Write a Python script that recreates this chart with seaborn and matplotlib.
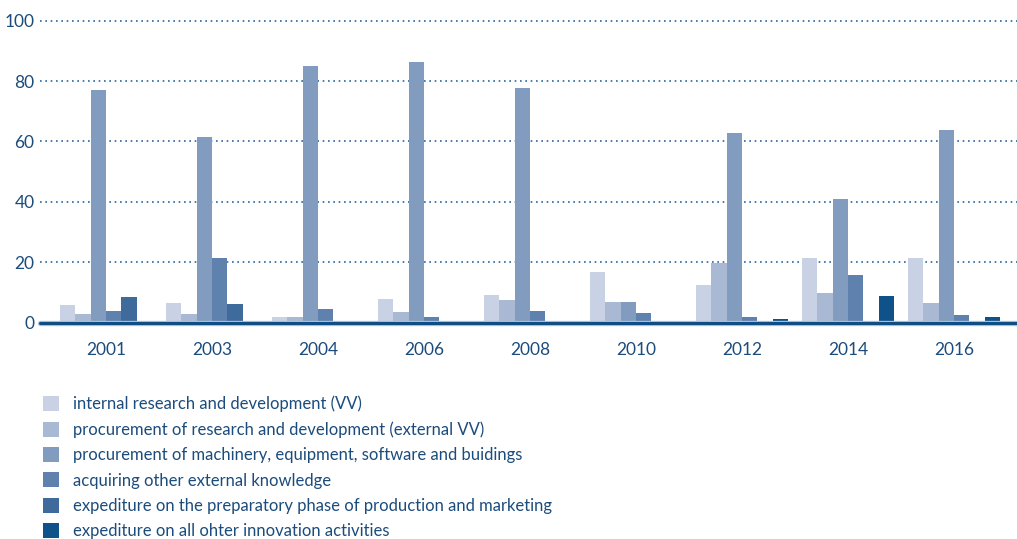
import numpy as np
import pandas as pd
import matplotlib
matplotlib.use("Agg")
import matplotlib.pyplot as plt
import seaborn as sns

years = ["2001", "2003", "2004", "2006", "2008", "2010", "2012", "2014", "2016"]

categories = [
    "internal research and development (VV)",
    "procurement of research and development (external VV)",
    "procurement of machinery, equipment, software and buidings",
    "acquiring other external knowledge",
    "expediture on the preparatory phase of production and marketing",
    "expediture on all ohter innovation activities",
]

internal_rd = [5.9, 6.5, 1.9, 7.9, 9.2, 16.8, 12.5, 21.5, 21.5]
external_rd = [2.9, 2.9, 1.9, 3.6, 7.5, 6.9, 19.9, 9.9, 6.5]
machinery = [77.0, 61.4, 84.9, 86.2, 77.6, 6.9, 62.7, 41.1, 63.7]
external_knowledge = [3.9, 21.5, 4.6, 1.9, 3.9, 3.2, 1.9, 15.8, 2.6]
preparatory_phase = [8.5, 6.2, 0, 0, 0, 0, 0, 0, 0]
other_activities = [0, 0, 0, 0, 0, 0, 1.2, 8.9, 1.9]

series = [internal_rd, external_rd, machinery, external_knowledge,
          preparatory_phase, other_activities]

palette = ["#C9D1E4", "#A9B8D3", "#829CC0", "#5F81AE", "#3E6A9C", "#0F5189"]
text_color = "#1B4C7C"

rows = []
for cat, vals in zip(categories, series):
    for yr, v in zip(years, vals):
        rows.append({"year": yr, "category": cat, "value": v})
df = pd.DataFrame(rows)

sns.set_theme(style="white")
plt.rcParams["font.family"] = ["Lato", "DejaVu Sans"]

fig = plt.figure(figsize=(10.17, 5.39), dpi=100)
ax = fig.add_axes([0.0393, 0.4013, 0.9607, 0.5603])

sns.barplot(data=df, x="year", y="value", hue="category", order=years,
            hue_order=categories, palette=palette, width=0.868,
            saturation=1, linewidth=0, ax=ax, zorder=3)

ax.set_xlim(-0.623, 8.594)
ax.set_ylim(0, 100)
ax.set_yticks([0, 20, 40, 60, 80, 100])
ax.set_xlabel("")
ax.set_ylabel("")
for s in ax.spines.values():
    s.set_visible(False)

# dotted horizontal grid
for yv in [20, 40, 60, 80, 100]:
    ax.axhline(yv, color="#2466A6", linestyle=(0, (1, 2.2)), linewidth=1.2,
               zorder=1, clip_on=False)

# baseline: dark band with a pale edge
ax.axhline(0, color="#A9C3DC", linewidth=3.8, zorder=4, clip_on=False)
ax.axhline(0, color="#0F4D82", linewidth=2.2, zorder=5, clip_on=False)

ax.tick_params(axis="both", length=0, colors=text_color, labelsize=12.5)
ax.tick_params(axis="x", pad=14)
ax.tick_params(axis="y", pad=4)

handles, labels = ax.get_legend_handles_labels()
ax.legend(handles, labels, loc="upper left", bbox_to_anchor=(0.042, 0.266),
          bbox_transform=fig.transFigure, frameon=False, fontsize=12,
          handlelength=1.0, handleheight=1.0, handletextpad=0.8,
          labelspacing=0.55, labelcolor=text_color, borderaxespad=0,
          borderpad=0)

fig.savefig("out.png", dpi=100)
